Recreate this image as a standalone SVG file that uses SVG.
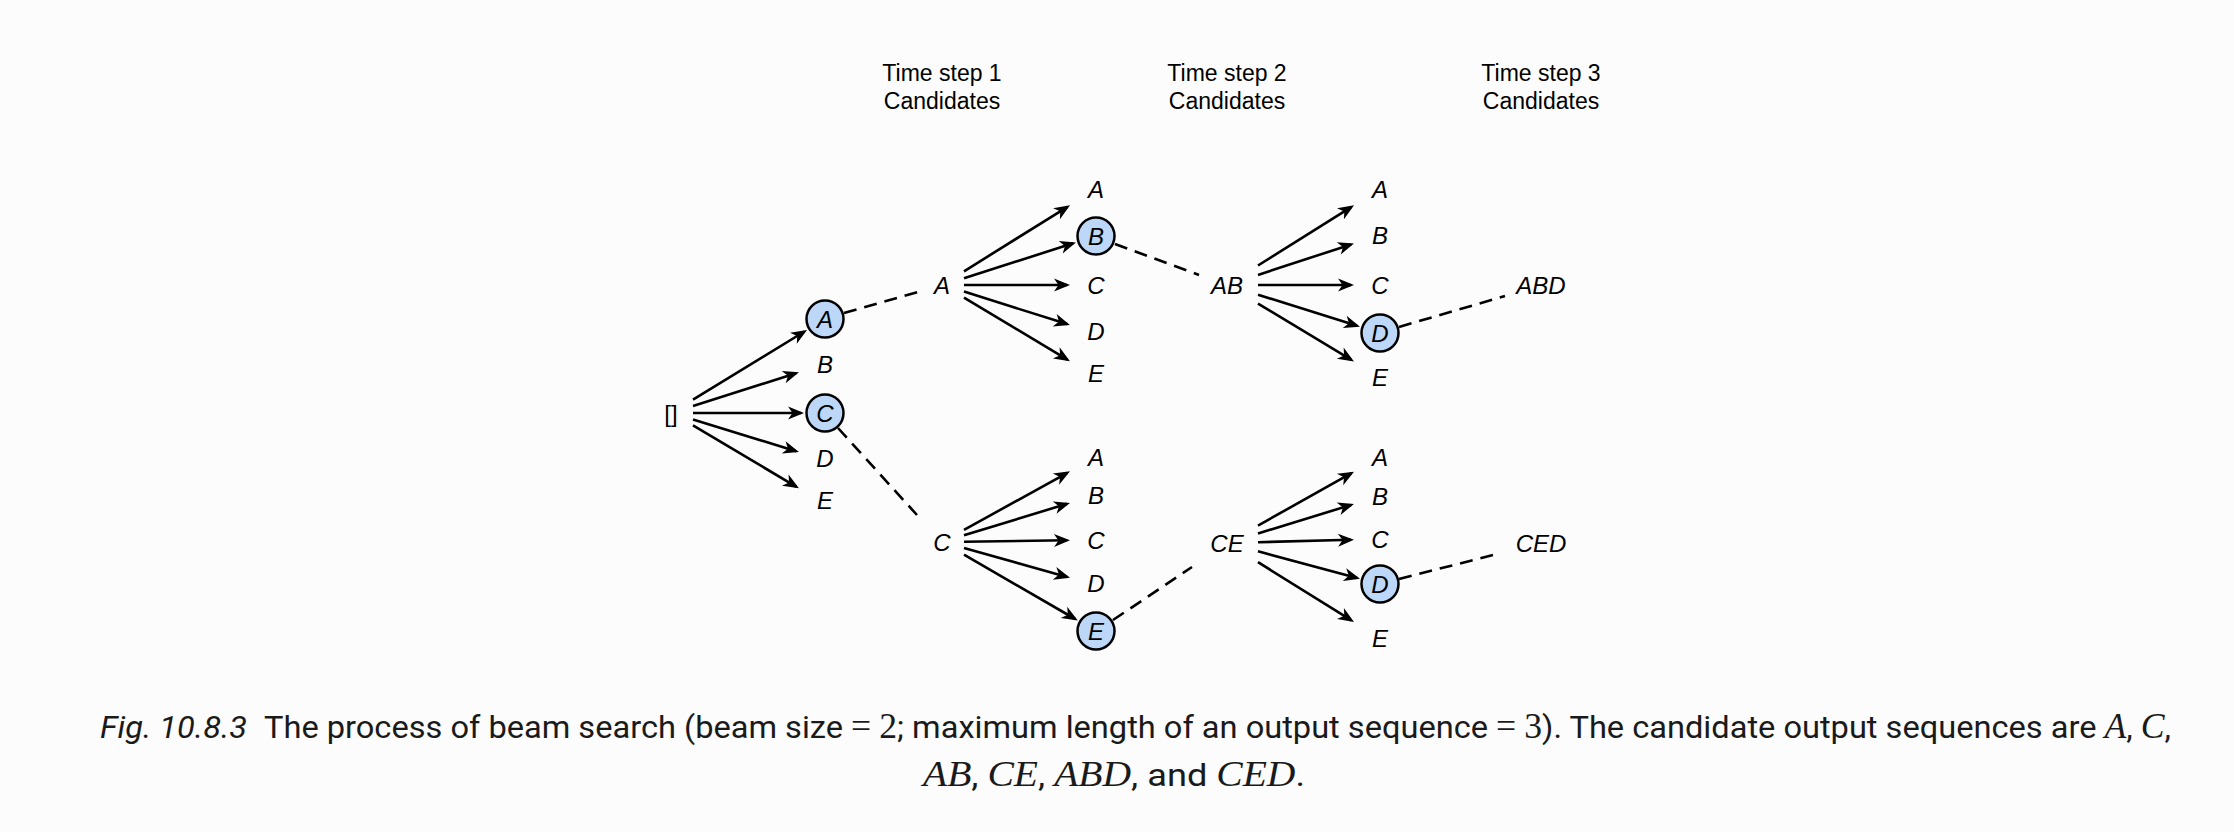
<svg xmlns="http://www.w3.org/2000/svg" width="2234" height="832" viewBox="0 0 2234 832">
<style>
.bg{fill:#fcfcfc}
.hdr{font-family:"Liberation Sans",Arial,sans-serif;font-size:23px;fill:#000;text-anchor:middle}
.lbl{font-family:"Liberation Sans",Arial,sans-serif;font-size:24px;font-style:italic;fill:#000;text-anchor:middle}
.root{font-style:normal}
.arr{stroke:#000;stroke-width:2.6;fill:none;marker-end:url(#ah)}
.dash{stroke:#000;stroke-width:2.6;fill:none;stroke-dasharray:13 8}
.sel{fill:#bcd7f7;stroke:#000;stroke-width:2.5}
.cap{font-family:Roboto,"Liberation Sans",sans-serif;font-size:32px;fill:#1a1a1a}
.math{font-family:"Liberation Serif",serif;font-style:italic;font-size:35px}
.mr{font-family:"Liberation Serif",serif;font-size:35px}
</style>
<defs>
<marker id="ah" markerUnits="userSpaceOnUse" markerWidth="20" markerHeight="16" viewBox="-16 -8 20 16" refX="0" refY="0" orient="auto">
<path d="M3,0 L-13,-6.5 L-8.5,0 L-13,6.5 Z" fill="#000"/>
</marker>
</defs>
<rect class="bg" x="0" y="0" width="2234" height="832"/>

<g id="headers">
<text class="hdr" x="942" y="81">Time step 1</text>
<text class="hdr" x="942" y="109">Candidates</text>
<text class="hdr" x="1227" y="81">Time step 2</text>
<text class="hdr" x="1227" y="109">Candidates</text>
<text class="hdr" x="1541" y="81">Time step 3</text>
<text class="hdr" x="1541" y="109">Candidates</text>
</g>

<g id="connectors">
<line class="arr" x1="693" y1="399.6" x2="804.5" y2="331.5"/>
<line class="arr" x1="693" y1="406" x2="796.1" y2="373.2"/>
<line class="arr" x1="693" y1="413" x2="801" y2="413"/>
<line class="arr" x1="693" y1="419.4" x2="796.1" y2="451.2"/>
<line class="arr" x1="693" y1="425.4" x2="796.4" y2="486.8"/>

<line class="arr" x1="964" y1="271.3" x2="1067.5" y2="206.8"/>
<line class="arr" x1="964" y1="278.3" x2="1073.1" y2="243.3"/>
<line class="arr" x1="964" y1="285" x2="1067" y2="285"/>
<line class="arr" x1="964" y1="291.6" x2="1067.1" y2="324.1"/>
<line class="arr" x1="964" y1="297.6" x2="1067.4" y2="359.6"/>

<line class="arr" x1="964" y1="529.9" x2="1067.4" y2="472.8"/>
<line class="arr" x1="964" y1="535.3" x2="1067.1" y2="503.8"/>
<line class="arr" x1="964" y1="541.7" x2="1067" y2="540.3"/>
<line class="arr" x1="964" y1="547.9" x2="1067.1" y2="576.9"/>
<line class="arr" x1="964" y1="554.7" x2="1075.2" y2="619"/>

<line class="arr" x1="1258" y1="265.5" x2="1351.5" y2="206.9"/>
<line class="arr" x1="1258" y1="274.9" x2="1351.1" y2="244.4"/>
<line class="arr" x1="1258" y1="285" x2="1351" y2="285"/>
<line class="arr" x1="1258" y1="294.7" x2="1357.1" y2="325.8"/>
<line class="arr" x1="1258" y1="303.6" x2="1351.4" y2="359.9"/>

<line class="arr" x1="1258" y1="525.6" x2="1351.4" y2="473.1"/>
<line class="arr" x1="1258" y1="533.5" x2="1351.1" y2="504.9"/>
<line class="arr" x1="1258" y1="542.2" x2="1351" y2="539.8"/>
<line class="arr" x1="1258" y1="551.3" x2="1357.1" y2="578"/>
<line class="arr" x1="1258" y1="562.2" x2="1351.5" y2="620.3"/>

<line class="dash" x1="844" y1="313" x2="918" y2="292"/>
<line class="dash" x1="838" y1="428" x2="917" y2="515"/>
<line class="dash" x1="1115" y1="244" x2="1199" y2="275"/>
<line class="dash" x1="1113" y1="620" x2="1192" y2="567"/>
<line class="dash" x1="1399" y1="327" x2="1505" y2="296"/>
<line class="dash" x1="1399" y1="579" x2="1493" y2="555"/>
</g>

<g id="n-root"><text class="lbl root" x="671" y="421.5">[]</text></g>

<g id="n1-A"><circle class="sel" cx="825" cy="319" r="18.5"/><text class="lbl" x="825" y="327.5">A</text></g>
<g id="n1-B"><text class="lbl" x="825" y="372.5">B</text></g>
<g id="n1-C"><circle class="sel" cx="825" cy="413" r="18.5"/><text class="lbl" x="825" y="421.5">C</text></g>
<g id="n1-D"><text class="lbl" x="825" y="466.5">D</text></g>
<g id="n1-E"><text class="lbl" x="825" y="508.5">E</text></g>

<g id="s-A"><text class="lbl" x="942" y="293.5">A</text></g>
<g id="s-C"><text class="lbl" x="942" y="550.5">C</text></g>

<g id="n2a-A"><text class="lbl" x="1096" y="197.5">A</text></g>
<g id="n2a-B"><circle class="sel" cx="1096" cy="236" r="18.5"/><text class="lbl" x="1096" y="244.5">B</text></g>
<g id="n2a-C"><text class="lbl" x="1096" y="293.5">C</text></g>
<g id="n2a-D"><text class="lbl" x="1096" y="339.5">D</text></g>
<g id="n2a-E"><text class="lbl" x="1096" y="381.5">E</text></g>

<g id="n2c-A"><text class="lbl" x="1096" y="465.5">A</text></g>
<g id="n2c-B"><text class="lbl" x="1096" y="503.5">B</text></g>
<g id="n2c-C"><text class="lbl" x="1096" y="548.5">C</text></g>
<g id="n2c-D"><text class="lbl" x="1096" y="591.5">D</text></g>
<g id="n2c-E"><circle class="sel" cx="1096" cy="631" r="18.5"/><text class="lbl" x="1096" y="639.5">E</text></g>

<g id="s-AB"><text class="lbl" x="1227" y="293.5">AB</text></g>
<g id="s-CE"><text class="lbl" x="1227" y="551.5">CE</text></g>

<g id="n3a-A"><text class="lbl" x="1380" y="197.5">A</text></g>
<g id="n3a-B"><text class="lbl" x="1380" y="243.5">B</text></g>
<g id="n3a-C"><text class="lbl" x="1380" y="293.5">C</text></g>
<g id="n3a-D"><circle class="sel" cx="1380" cy="333" r="18.5"/><text class="lbl" x="1380" y="341.5">D</text></g>
<g id="n3a-E"><text class="lbl" x="1380" y="385.5">E</text></g>

<g id="n3c-A"><text class="lbl" x="1380" y="465.5">A</text></g>
<g id="n3c-B"><text class="lbl" x="1380" y="504.5">B</text></g>
<g id="n3c-C"><text class="lbl" x="1380" y="547.5">C</text></g>
<g id="n3c-D"><circle class="sel" cx="1380" cy="584" r="18.5"/><text class="lbl" x="1380" y="592.5">D</text></g>
<g id="n3c-E"><text class="lbl" x="1380" y="646.5">E</text></g>

<g id="s-ABD"><text class="lbl" x="1541" y="293.5">ABD</text></g>
<g id="s-CED"><text class="lbl" x="1541" y="551.5">CED</text></g>

<g id="caption">
<text class="cap" x="100" y="738" font-style="italic" textLength="147" lengthAdjust="spacingAndGlyphs">Fig. 10.8.3</text>
<text class="cap" x="264" y="738" textLength="1907" lengthAdjust="spacingAndGlyphs">The process of beam search (beam size <tspan class="mr">=</tspan> <tspan class="mr">2</tspan>; maximum length of an output sequence <tspan class="mr">=</tspan> <tspan class="mr">3</tspan>). The candidate output sequences are <tspan class="math">A</tspan>, <tspan class="math">C</tspan>,</text>
<text class="cap" x="923" y="786" textLength="382" lengthAdjust="spacingAndGlyphs"><tspan class="math">AB</tspan>, <tspan class="math">CE</tspan>, <tspan class="math">ABD</tspan>, and <tspan class="math">CED</tspan>.</text>
</g>
</svg>
